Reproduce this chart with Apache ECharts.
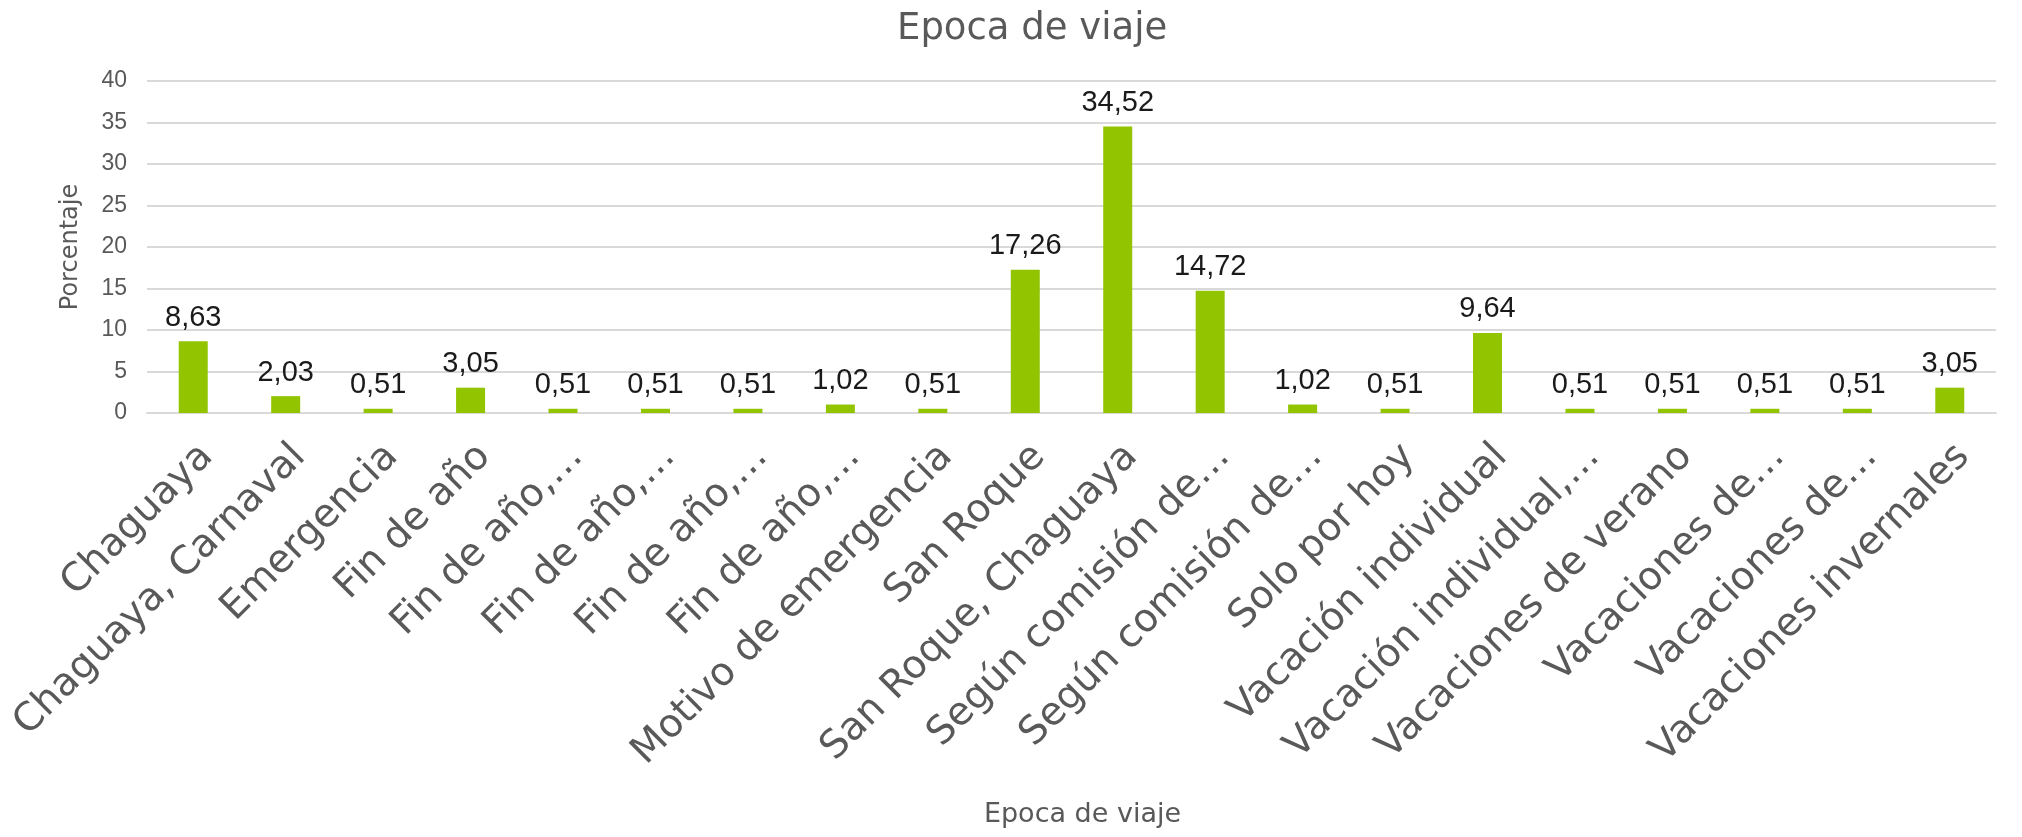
<!DOCTYPE html>
<html>
<head>
<meta charset="utf-8">
<title>Epoca de viaje</title>
<script src="https://cdn.jsdelivr.net/npm/echarts@6/dist/echarts.min.js"></script>
<style>
  html, body { margin: 0; padding: 0; background: #fff; }
  #chart { width: 2022px; height: 837px; }
</style>
</head>
<body>
<div id="chart"></div>
<script>
// categorias tal como aparecen en el eje (recortadas con …)
var categorias = [
  'Chaguaya', 'Chaguaya, Carnaval', 'Emergencia', 'Fin de año',
  'Fin de año,…', 'Fin de año,…', 'Fin de año,…', 'Fin de año,…',
  'Motivo de emergencia', 'San Roque', 'San Roque, Chaguaya',
  'Según comisión de…', 'Según comisión de…', 'Solo por hoy',
  'Vacación individual', 'Vacación individual,…', 'Vacaciones de verano',
  'Vacaciones de…', 'Vacaciones de…', 'Vacaciones invernales'
];
var porcentajes = [
  8.63, 2.03, 0.51, 3.05, 0.51, 0.51, 0.51, 1.02, 0.51, 17.26,
  34.52, 14.72, 1.02, 0.51, 9.64, 0.51, 0.51, 0.51, 0.51, 3.05
];
var yMin = 0, yMax = 40, yPaso = 5;

var gris = '#595959';
var chart = echarts.init(document.getElementById('chart'));

var option = {
  animation: false,
  backgroundColor: '#fff',
  title: {
    text: 'Epoca de viaje',
    left: 892,
    top: 6,
    textStyle: { color: gris, fontSize: 37, fontWeight: 'normal', fontFamily: 'DejaVu Sans' }
  },
  grid: { left: 147, right: 26, top: 81, bottom: 424, containLabel: false },
  xAxis: {
    type: 'category',
    data: categorias,
    name: 'Epoca de viaje',
    nameLocation: 'middle',
    nameGap: 388,
    nameTextStyle: { color: gris, fontSize: 27, fontFamily: 'DejaVu Sans', padding: [0, 0, 0, 22] },
    axisLine: { lineStyle: { color: '#d9d9d9', width: 2 } },
    axisTick: { show: false },
    axisLabel: {
      interval: 0,
      rotate: 45,
      margin: 24,
      verticalAlign: 'top',
      color: gris,
      fontSize: 39,
      fontFamily: 'DejaVu Sans'
    }
  },
  yAxis: {
    type: 'value',
    min: yMin,
    max: yMax,
    interval: yPaso,
    name: 'Porcentaje',
    nameLocation: 'middle',
    nameGap: 64,
    nameTextStyle: { color: gris, fontSize: 24, fontFamily: 'DejaVu Sans' },
    axisLine: { show: false },
    axisTick: { show: false },
    axisLabel: { color: gris, fontSize: 23, margin: 20, fontFamily: 'Liberation Sans' },
    splitLine: { lineStyle: { color: '#d9d9d9', width: 2 } }
  },
  series: [{
    type: 'bar',
    data: porcentajes,
    barWidth: 29,
    itemStyle: { color: '#92c400' },
    label: {
      show: true,
      position: 'top',
      distance: 9,
      color: '#1a1a1a',
      fontSize: 29,
      fontFamily: 'Liberation Sans',
      formatter: function (p) { return p.value.toFixed(2).replace('.', ','); }
    }
  }]
};

chart.setOption(option);
</script>
</body>
</html>
